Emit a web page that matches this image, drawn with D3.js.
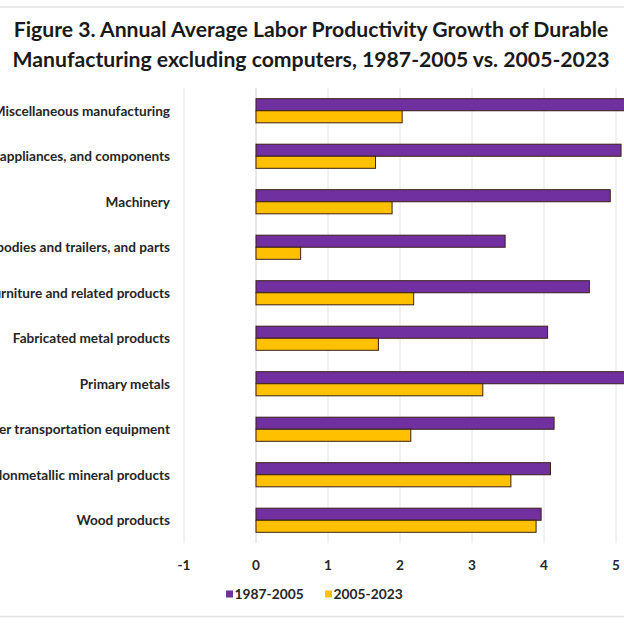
<!DOCTYPE html>
<html>
<head>
<meta charset="utf-8">
<script src="https://cdn.jsdelivr.net/npm/d3@7"></script>
<style>
  body { margin: 0; background: #fff; }
  svg { display: block; font-family: Lato, "Open Sans", sans-serif; }
</style>
</head>
<body>
<svg width="624" height="624"></svg>
<script>
// categories, top to bottom
const categories = [
  'Miscellaneous manufacturing',
  'Electrical equipment, appliances, and components',
  'Machinery',
  'Motor vehicles, bodies and trailers, and parts',
  'Furniture and related products',
  'Fabricated metal products',
  'Primary metals',
  'Other transportation equipment',
  'Nonmetallic mineral products',
  'Wood products'
];
const series = ['1987-2005', '2005-2023'];
const values1987 = [5.3, 5.07, 4.92, 3.46, 4.63, 4.05, 5.5, 4.14, 4.09, 3.96];
const values2005 = [2.03, 1.66, 1.89, 0.62, 2.19, 1.70, 3.15, 2.15, 3.54, 3.89];
const ticks = [-1, 0, 1, 2, 3, 4, 5];
const colors = ['#7030a0', '#ffc000'];

const data = categories.map((c, i) => ({
  category: c,
  values: [
    { key: series[0], value: values1987[i] },
    { key: series[1], value: values2005[i] }
  ]
}));

const svg = d3.select('svg');
const plot = { left: 184, right: 616, top: 88, bottom: 543 };

const x = d3.scaleLinear().domain([-1, 5]).range([plot.left, plot.right]);
const y0 = d3.scaleBand()
  .domain(categories)
  .range([plot.top, plot.bottom])
  .paddingInner(0.47)
  .paddingOuter(0.235);
const y1 = d3.scaleBand().domain(series).range([0, y0.bandwidth()]);
const z = d3.scaleOrdinal().domain(series).range(colors);

// top and bottom frame lines
svg.append('line')
  .attr('x1', 0).attr('x2', 624).attr('y1', 7).attr('y2', 7)
  .attr('stroke', '#e2e2e2').attr('stroke-width', 1.5);
svg.append('line')
  .attr('x1', 0).attr('x2', 624).attr('y1', 616.5).attr('y2', 616.5)
  .attr('stroke', '#e2e2e2').attr('stroke-width', 1.5);

// Title
svg.append('text')
  .attr('x', 312)
  .attr('text-anchor', 'middle')
  .attr('font-weight', 'bold')
  .attr('font-size', 21.2)
  .attr('fill', '#1a1a1a')
  .selectAll('tspan')
  .data([
    'Figure 3. Annual Average Labor Productivity Growth of Durable',
    'Manufacturing excluding computers, 1987-2005 vs. 2005-2023'
  ])
  .enter()
  .append('tspan')
  .attr('x', 311)
  .attr('y', (d, i) => 37 + i * 29.5)
  .text(d => d);

// Gridlines
svg.append('g')
  .attr('class', 'grid')
  .selectAll('line')
  .data(ticks)
  .enter()
  .append('line')
  .attr('x1', d => x(d)).attr('x2', d => x(d))
  .attr('y1', plot.top).attr('y2', plot.bottom)
  .attr('stroke', d => (d === 0 ? '#d0d0d0' : '#e4e4e4'))
  .attr('stroke-width', 1);

// Bars
svg.append('g')
  .attr('class', 'plotarea')
  .selectAll('g')
  .data(data)
  .enter()
  .append('g')
  .attr('transform', d => `translate(0,${y0(d.category)})`)
  .selectAll('rect')
  .data(d => d.values)
  .enter()
  .append('rect')
  .attr('x', d => x(Math.min(0, d.value)))
  .attr('y', d => y1(d.key))
  .attr('width', d => Math.abs(x(d.value) - x(0)))
  .attr('height', y1.bandwidth())
  .attr('fill', d => z(d.key))
  .attr('stroke', '#3b1f14')
  .attr('stroke-width', 1);

// Category labels
svg.append('g')
  .attr('class', 'y-axis')
  .attr('font-weight', 'bold')
  .attr('font-size', 13.6)
  .attr('fill', '#262626')
  .attr('text-anchor', 'end')
  .selectAll('text')
  .data(categories)
  .enter()
  .append('text')
  .attr('x', 170)
  .attr('y', d => y0(d) + y0.bandwidth() / 2)
  .attr('dy', '0.35em')
  .text(d => d);

// X-Axis labels
svg.append('g')
  .attr('class', 'x-axis')
  .attr('font-weight', 'bold')
  .attr('font-size', 13.6)
  .attr('fill', '#262626')
  .attr('text-anchor', 'middle')
  .selectAll('text')
  .data(ticks)
  .enter()
  .append('text')
  .attr('x', d => x(d))
  .attr('y', 565)
  .attr('dy', '0.35em')
  .text(d => d);

// Legend
const legendX = [226, 325];
const legend = svg.append('g')
  .attr('class', 'legend')
  .attr('font-weight', 'bold')
  .attr('font-size', 13.8)
  .attr('fill', '#262626')
  .selectAll('g')
  .data(series)
  .enter()
  .append('g')
  .attr('transform', (d, i) => `translate(${legendX[i]},594)`);

legend.append('rect')
  .attr('x', 0).attr('y', -3.5)
  .attr('width', 7).attr('height', 7)
  .attr('fill', z);

legend.append('text')
  .attr('x', 8.5)
  .attr('dy', '0.35em')
  .text(d => d);
</script>
</body>
</html>
